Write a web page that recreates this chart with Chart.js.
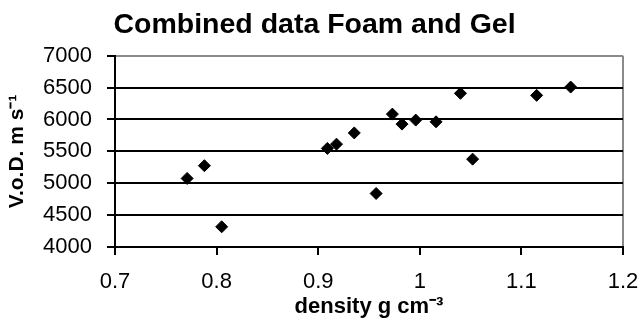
<!DOCTYPE html>
<html>
<head>
<meta charset="utf-8">
<script src="https://cdn.jsdelivr.net/npm/chart.js@4"></script>
<style>
  html, body { margin: 0; padding: 0; background: #ffffff; }
  #wrap { width: 639px; height: 323px; }
</style>
</head>
<body>
<div id="wrap"><canvas id="c" width="639" height="323"></canvas></div>
<script>
const chartTitle = "Combined data Foam and Gel";
const xAxisTitle = "density g cm\u207B\u00B3";
const yAxisTitle = "V.o.D. m s\u207B\u00B9";
const densityValues = [0.771, 0.788, 0.805, 0.909, 0.918, 0.9355, 0.957, 0.973, 0.9825, 0.996, 1.016, 1.040, 1.052, 1.115, 1.1485];
const vodValues     = [5075, 5275, 4317, 5546, 5613, 5789, 4839, 6084, 5927, 5990, 5963, 6410, 5378, 6378, 6508];
const xTickValues = [0.7, 0.8, 0.9, 1.0, 1.1, 1.2];
const yTickValues = [4000, 4500, 5000, 5500, 6000, 6500, 7000];

const points = densityValues.map((d, i) => ({ x: d, y: vodValues[i] }));
const FONT = "'Liberation Sans', Arial, sans-serif";

new Chart(document.getElementById('c'), {
  type: 'scatter',
  data: {
    datasets: [{
      data: points,
      pointStyle: 'rectRot',
      pointRadius: 6,
      pointHoverRadius: 6,
      backgroundColor: '#000000',
      borderColor: '#000000',
      borderWidth: 1
    }]
  },
  options: {
    responsive: false,
    animation: false,
    devicePixelRatio: 1,
    layout: { padding: { left: 0, right: 10, top: 0, bottom: 0 } },
    plugins: {
      legend: { display: false },
      tooltip: { enabled: false },
      title: {
        display: true,
        text: chartTitle,
        color: '#000000',
        font: { family: FONT, size: 28.5, weight: 'bold' },
        padding: { top: 8, bottom: 13.5 }
      }
    },
    scales: {
      x: {
        type: 'linear',
        min: 0.7,
        max: 1.2,
        afterBuildTicks: (s) => { s.ticks = xTickValues.map(v => ({ value: v })); },
        afterFit: (s) => { s.height = 76; s.paddingRight = 16; s.paddingLeft = 0; },
        ticks: {
          color: '#000000',
          font: { family: FONT, size: 22 },
          padding: 14,
          maxRotation: 0,
          callback: (v) => String(Math.round(v * 10) / 10)
        },
        grid: {
          drawOnChartArea: true,
          color: (ctx) => (ctx.tick && Math.abs(ctx.tick.value - 1.2) < 1e-6) ? '#8a8a8a' : 'rgba(0,0,0,0)',
          tickColor: '#000000',
          tickLength: 8,
          lineWidth: 2,
          tickWidth: 2
        },
        border: { display: true, color: '#000000', width: 2 },
        title: {
          display: true,
          text: xAxisTitle,
          color: '#000000',
          font: { family: FONT, size: 22, weight: 'bold' },
          padding: { top: 0, bottom: 3 }
        }
      },
      y: {
        type: 'linear',
        min: 4000,
        max: 7000,
        afterBuildTicks: (s) => { s.ticks = yTickValues.map(v => ({ value: v })); },
        afterFit: (s) => { s.width = 115; },
        ticks: {
          color: '#000000',
          font: { family: FONT, size: 22 },
          padding: 15,
          callback: (v) => String(v)
        },
        grid: {
          color: (ctx) => (ctx.tick && ctx.tick.value === 7000) ? '#8a8a8a' : '#000000',
          tickColor: '#000000',
          tickLength: 8,
          lineWidth: 2,
          tickWidth: 2
        },
        border: { display: true, color: '#000000', width: 2 },
        title: {
          display: true,
          text: yAxisTitle,
          color: '#000000',
          font: { family: FONT, size: 21, weight: 'bold' },
          padding: { top: 5, bottom: 0 }
        }
      }
    }
  }
});
</script>
</body>
</html>
